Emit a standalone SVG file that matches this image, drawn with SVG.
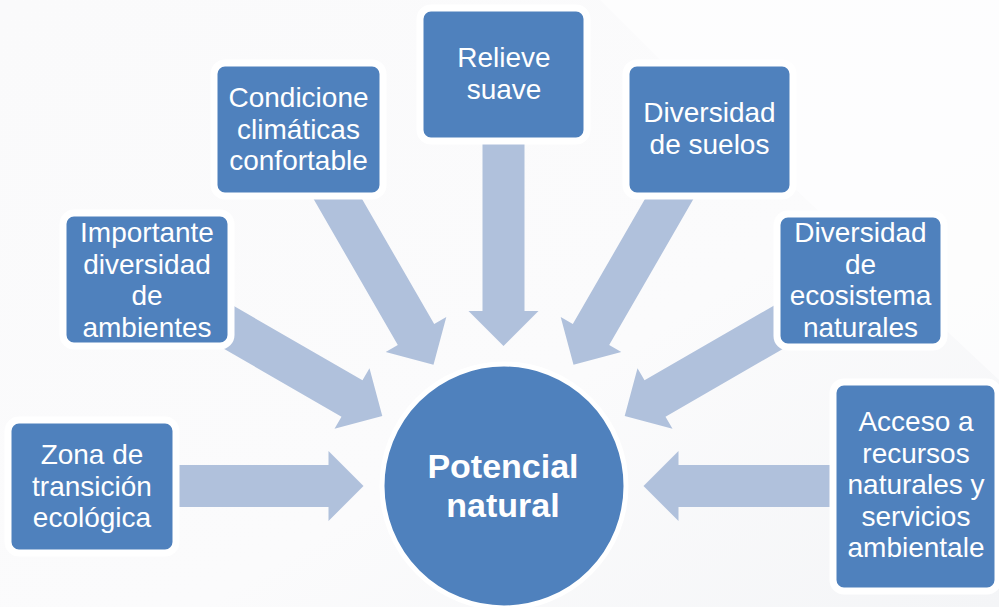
<svg xmlns="http://www.w3.org/2000/svg" width="999" height="607" viewBox="0 0 999 607">
<style>
.box{fill:#4F81BD;stroke:#FFFFFF;stroke-width:7}
.t{fill:#FFFFFF;font-family:"Liberation Sans",Arial,sans-serif;font-size:28px;text-anchor:middle}
.c{fill:#FFFFFF;font-family:"Liberation Sans",Arial,sans-serif;font-size:34px;font-weight:bold;text-anchor:middle}
.arr{fill:#B0C1DC}
</style>
<defs>
<polygon id="arrow" points="-230,-21 -35,-21 -35,-35 0,0 -35,35 -35,21 -230,21"/>
<linearGradient id="bg" x1="0" y1="0" x2="1" y2="1">
<stop offset="0" stop-color="#FAFAFB"/>
<stop offset="0.6" stop-color="#FBFBFC"/>
<stop offset="1" stop-color="#F4F5F7"/>
</linearGradient>
</defs>
<rect x="0" y="0" width="999" height="607" fill="url(#bg)"/>
<polygon points="600,0 999,0 999,380 700,100" fill="#FFFFFF" opacity="0.6"/>
<g id="connectors">
<use href="#arrow" class="arr" transform="translate(363.5,486) rotate(0)"/>
<use href="#arrow" class="arr" transform="translate(382.3,416) rotate(30)"/>
<use href="#arrow" class="arr" transform="translate(433.5,364.8) rotate(60)"/>
<use href="#arrow" class="arr" transform="translate(503.5,346) rotate(90)"/>
<use href="#arrow" class="arr" transform="translate(573.5,364.8) rotate(120)"/>
<use href="#arrow" class="arr" transform="translate(624.7,416) rotate(150)"/>
<use href="#arrow" class="arr" transform="translate(643.5,486) rotate(180)"/>
</g>
<g id="center">
<circle cx="504" cy="486" r="122" fill="#4F81BD" stroke="#FFFFFF" stroke-width="5"/>
<text class="c" x="503" y="478">Potencial</text>
<text class="c" x="503" y="517">natural</text>
</g>
<g id="zona">
<rect class="box" x="8" y="420" width="168" height="133" rx="11"/>
<text class="t" x="92" y="464">Zona de</text>
<text class="t" x="92" y="495.5">transición</text>
<text class="t" x="92" y="527">ecológica</text>
</g>
<g id="importante">
<rect class="box" x="63" y="213" width="168" height="133" rx="11"/>
<text class="t" x="147" y="242">Importante</text>
<text class="t" x="147" y="273.5">diversidad</text>
<text class="t" x="147" y="305">de</text>
<text class="t" x="147" y="336.5">ambientes</text>
</g>
<g id="condicione">
<rect class="box" x="214" y="63" width="169" height="133" rx="11"/>
<text class="t" x="298.5" y="107">Condicione</text>
<text class="t" x="298.5" y="138.5">climáticas</text>
<text class="t" x="298.5" y="170">confortable</text>
</g>
<g id="relieve">
<rect class="box" x="420" y="8" width="167" height="133" rx="11"/>
<text class="t" x="504" y="67">Relieve</text>
<text class="t" x="504" y="99">suave</text>
</g>
<g id="suelos">
<rect class="box" x="626" y="63" width="167" height="133" rx="11"/>
<text class="t" x="709.5" y="122">Diversidad</text>
<text class="t" x="709.5" y="154">de suelos</text>
</g>
<g id="ecosistema">
<rect class="box" x="777" y="214" width="167" height="133" rx="11"/>
<text class="t" x="860.5" y="242">Diversidad</text>
<text class="t" x="860.5" y="273.5">de</text>
<text class="t" x="860.5" y="305">ecosistema</text>
<text class="t" x="860.5" y="336.5">naturales</text>
</g>
<g id="acceso">
<rect class="box" x="833" y="382" width="165" height="209" rx="11"/>
<text class="t" x="916" y="431">Acceso a</text>
<text class="t" x="916" y="462.5">recursos</text>
<text class="t" x="916" y="494">naturales y</text>
<text class="t" x="916" y="525.5">servicios</text>
<text class="t" x="916" y="557">ambientale</text>
</g>
</svg>
